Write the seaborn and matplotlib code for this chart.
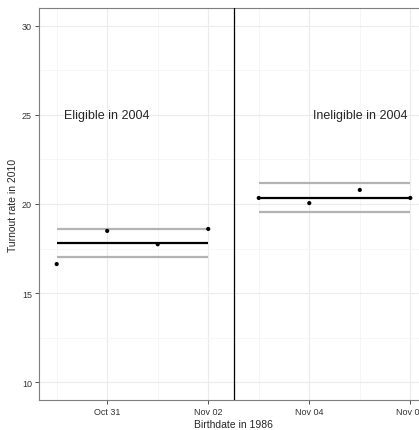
import numpy as np
import pandas as pd
import seaborn as sns
import matplotlib
matplotlib.use('Agg')
import matplotlib.pyplot as plt
import matplotlib.dates as mdates

# birthdates (1986) and turnout rate in 2010
dates = ['1986-10-30', '1986-10-31', '1986-11-01', '1986-11-02',
         '1986-11-03', '1986-11-04', '1986-11-05', '1986-11-06']
turnout = [16.63, 18.49, 17.74, 18.6, 20.34, 20.05, 20.79, 20.34]
eligible = ['Eligible in 2004'] * 4 + ['Ineligible in 2004'] * 4

# group means with upper / lower bands
group_start = ['1986-10-30', '1986-11-03']
group_end = ['1986-11-02', '1986-11-06']
group_mean = [17.8, 20.34]
group_upper = [18.6, 21.2]
group_lower = [17.02, 19.57]
label_x = ['1986-10-31', '1986-11-05']
label_y = [25, 25]
cutoff = '1986-11-02 12:00'

df = pd.DataFrame({'date': pd.to_datetime(dates), 'turnout': turnout, 'group': eligible})

sns.set_style('white')
plt.rcParams['font.family'] = ['Liberation Sans', 'DejaVu Sans']

fig = plt.figure(figsize=(4.19, 4.31), dpi=100)
ax = fig.add_axes([39 / 419, 30 / 431, 389 / 419, 392 / 431])

grey = '#b3b3b3'
for s, e, m, u, l in zip(group_start, group_end, group_mean, group_upper, group_lower):
    s, e = pd.Timestamp(s), pd.Timestamp(e)
    ax.hlines(u, s, e, color=grey, lw=1.6, zorder=3)
    ax.hlines(l, s, e, color=grey, lw=1.6, zorder=3)
    ax.hlines(m, s, e, color='black', lw=1.6, zorder=4)

sns.scatterplot(data=df, x='date', y='turnout', color='black', s=9,
                edgecolor='none', ax=ax, zorder=5, legend=False)
ax.axvline(pd.Timestamp(cutoff), color='black', lw=0.9, zorder=4)

for t, x, y in zip(['Eligible in 2004', 'Ineligible in 2004'], label_x, label_y):
    ax.text(pd.Timestamp(x), y, t, ha='center', va='center', fontsize=9, zorder=6)

ax.set_xlim(pd.Timestamp('1986-10-29 15:36'), pd.Timestamp('1986-11-06 08:24'))
ax.set_ylim(9.0, 31.0)
ax.set_xticks(pd.to_datetime(['1986-10-31', '1986-11-02', '1986-11-04', '1986-11-06']))
ax.set_xticks(pd.to_datetime(['1986-10-30', '1986-11-01', '1986-11-03', '1986-11-05']), minor=True)
ax.xaxis.set_major_formatter(mdates.DateFormatter('%b %d'))
ax.set_yticks([10, 15, 20, 25, 30])
ax.set_yticks([12.5, 17.5, 22.5, 27.5], minor=True)

ax.grid(which='major', color='#ebebeb', lw=0.8)
ax.grid(which='minor', color='#f5f5f5', lw=0.6)
ax.set_axisbelow(True)
for sp in ax.spines.values():
    sp.set_color('#7f7f7f')
    sp.set_linewidth(0.8)
ax.tick_params(axis='both', which='major', length=3, width=0.6, color='#333333',
               labelsize=6.5, labelcolor='#333333', pad=2, bottom=True, left=True)
ax.tick_params(axis='both', which='minor', length=0)

ax.set_xlabel('Birthdate in 1986', fontsize=7.5, labelpad=2)
ax.set_ylabel('Turnout rate in 2010', fontsize=7.5, labelpad=3)

fig.savefig('out.png', dpi=100)
